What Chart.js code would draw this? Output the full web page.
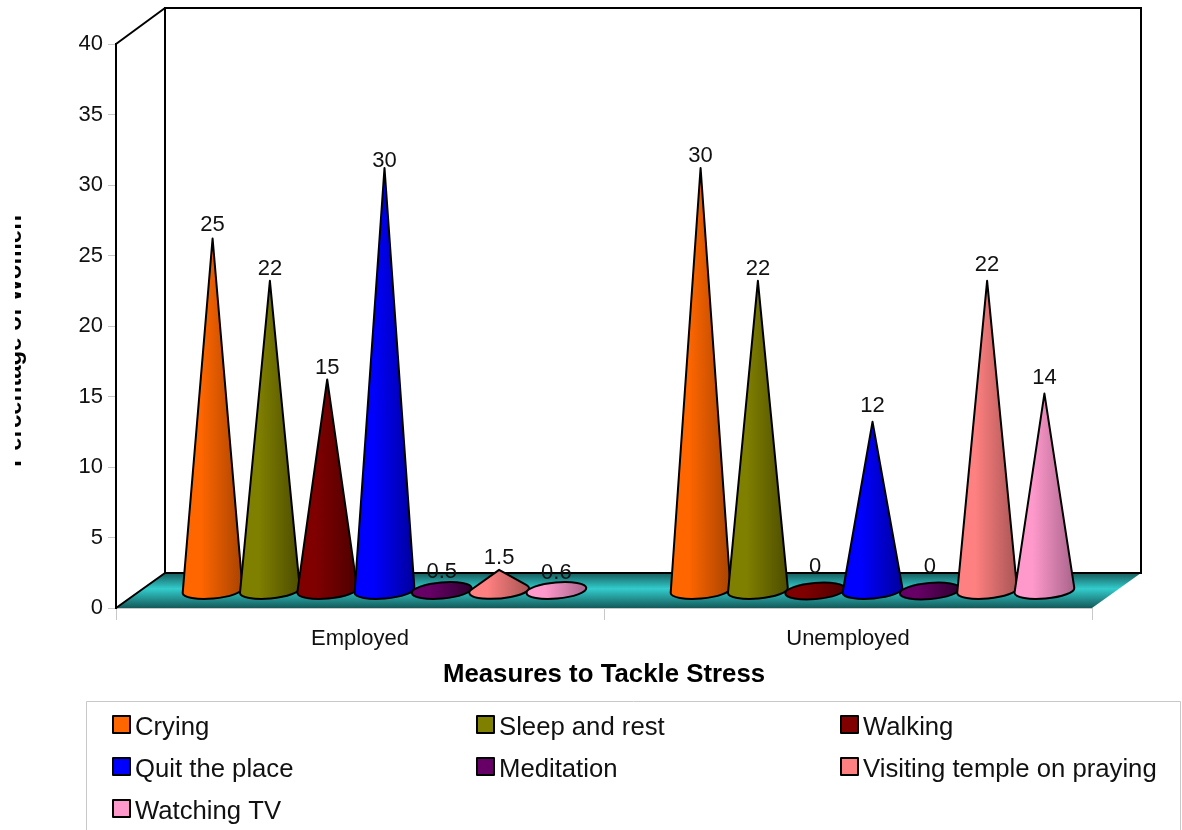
<!DOCTYPE html>
<html>
<head>
<meta charset="utf-8">
<title>Measures to Tackle Stress</title>
<script src="https://cdn.jsdelivr.net/npm/chart.js@4"></script>
<style>
  html, body { margin: 0; padding: 0; background: #fff; overflow: hidden; }
  canvas { display: block; }
</style>
</head>
<body>
<canvas id="chart" width="1182" height="830"></canvas>
<script>
const categories = ['Employed', 'Unemployed'];
const seriesNames = ['Crying', 'Sleep and rest', 'Walking', 'Quit the place', 'Meditation', 'Visiting temple on praying', 'Watching TV'];
const crying = [25, 30];
const sleepAndRest = [22, 22];
const walking = [15, 0];
const quitThePlace = [30, 12];
const meditation = [0.5, 0];
const visitingTemple = [1.5, 22];
const watchingTv = [0.6, 14];
const seriesValues = [crying, sleepAndRest, walking, quitThePlace, meditation, visitingTemple, watchingTv];
const tickStep = 5;
const tickMax = 40;

const lightColors = ['#ff6600', '#808000', '#800000', '#0000ff', '#660066', '#ff8080', '#ff99cc'];
const darkColors = ['#a84300', '#4d4d00', '#4d0000', '#00009c', '#2e002e', '#a85454', '#a8648a'];
// how far each value label sits above its cone tip
const labelLift = [[15, 13], [13, 13], [13, 25], [8, 17], [13, 25], [13, 17], [11, 17]];

const FONT = '"Liberation Sans", Arial, sans-serif';
const INK = '#111';
const DEPTH_X = 49, DEPTH_Y = 35;   // depth of the fake 3D box
const CONE_X = 24.5, CONE_Y = 17;   // cones stand in the middle of the floor
const CONE_RX = 30, CONE_RY = 8, CONE_TILT = -0.085;

function drawBox(ctx, area) {
  const { left, right, top, bottom } = area;
  // floor
  const floor = ctx.createLinearGradient(0, bottom - DEPTH_Y, 0, bottom);
  floor.addColorStop(0, '#155c5c');
  floor.addColorStop(0.45, '#33cccc');
  floor.addColorStop(1, '#145a5a');
  ctx.fillStyle = floor;
  ctx.beginPath();
  ctx.moveTo(left, bottom);
  ctx.lineTo(left + DEPTH_X, bottom - DEPTH_Y);
  ctx.lineTo(right + DEPTH_X, bottom - DEPTH_Y);
  ctx.lineTo(right, bottom);
  ctx.closePath();
  ctx.fill();
  // walls
  ctx.strokeStyle = '#000';
  ctx.lineWidth = 2;
  ctx.strokeRect(left + DEPTH_X, top - DEPTH_Y - 1, right - left, bottom - top + 1);
  ctx.beginPath();
  ctx.moveTo(left, top);
  ctx.lineTo(left + DEPTH_X, top - DEPTH_Y - 1);
  ctx.moveTo(left, bottom);
  ctx.lineTo(left + DEPTH_X, bottom - DEPTH_Y);
  ctx.stroke();
}

function drawCone(ctx, cx, cy, tipY, light, dark) {
  const grad = ctx.createLinearGradient(cx - CONE_RX, 0, cx + CONE_RX, 0);
  grad.addColorStop(0, light);
  grad.addColorStop(0.3, light);
  grad.addColorStop(1, dark);
  ctx.fillStyle = grad;
  ctx.strokeStyle = '#000';
  ctx.lineWidth = 2;
  ctx.lineJoin = 'round';

  // tip in the ellipse's own unit circle, to find the tangent points
  const dx = 0, dy = tipY - cy;
  const cos = Math.cos(-CONE_TILT), sin = Math.sin(-CONE_TILT);
  const px = (dx * cos - dy * sin) / CONE_RX;
  const py = (dx * sin + dy * cos) / CONE_RY;
  const d = Math.hypot(px, py);

  ctx.beginPath();
  if (d <= 1) {
    ctx.ellipse(cx, cy, CONE_RX, CONE_RY, CONE_TILT, 0, Math.PI * 2);
  } else {
    const a = Math.atan2(py, px), spread = Math.acos(1 / d);
    const t1 = a + spread, t2 = a - spread;
    ctx.moveTo(cx, tipY);
    ctx.ellipse(cx, cy, CONE_RX, CONE_RY, CONE_TILT, t1, t2, false);
  }
  ctx.closePath();
  ctx.fill();
  ctx.stroke();
}

function drawLegend(chart) {
  const ctx = chart.ctx;
  ctx.strokeStyle = '#c8c8c8';
  ctx.lineWidth = 1;
  ctx.strokeRect(86.5, 701.5, 1094, 140);
  ctx.font = '25.7px ' + FONT;
  ctx.textAlign = 'left';
  ctx.textBaseline = 'middle';
  chart.data.datasets.forEach((ds, i) => {
    const x = 113 + (i % 3) * 364;
    const y = 724 + Math.floor(i / 3) * 42;
    ctx.fillStyle = ds.backgroundColor;
    ctx.fillRect(x, y - 8, 17, 17);
    ctx.strokeStyle = '#000';
    ctx.lineWidth = 2;
    ctx.strokeRect(x, y - 8, 17, 17);
    ctx.fillStyle = INK;
    ctx.fillText(ds.label, x + 22, y + 4);
  });
}

const conePlugin = {
  id: 'cones',
  beforeDatasetsDraw(chart) {
    drawBox(chart.ctx, chart.chartArea);
  },
  // the bars are only used for their geometry
  beforeDatasetDraw() {
    return false;
  },
  afterDatasetsDraw(chart) {
    const ctx = chart.ctx;
    chart.data.datasets.forEach((ds, i) => {
      chart.getDatasetMeta(i).data.forEach(bar => {
        drawCone(ctx, bar.x + CONE_X, bar.base - CONE_Y, bar.y - CONE_Y, lightColors[i], darkColors[i]);
      });
    });
    ctx.font = '22px ' + FONT;
    ctx.fillStyle = INK;
    ctx.textAlign = 'center';
    ctx.textBaseline = 'bottom';
    chart.data.datasets.forEach((ds, i) => {
      chart.getDatasetMeta(i).data.forEach((bar, j) => {
        ctx.fillText(String(ds.data[j]), bar.x + CONE_X, bar.y - CONE_Y - labelLift[i][j] + 12);
      });
    });
  },
  afterDraw(chart) {
    const ctx = chart.ctx;
    // the y title runs off the left side of the picture
    ctx.save();
    ctx.beginPath();
    ctx.rect(15, 0, 200, 700);
    ctx.clip();
    ctx.translate(21, 341);
    ctx.rotate(-Math.PI / 2);
    ctx.font = 'bold 24px ' + FONT;
    ctx.fillStyle = '#000';
    ctx.textAlign = 'center';
    ctx.textBaseline = 'alphabetic';
    ctx.fillText('Percentage of Women', 0, 0);
    ctx.restore();
    drawLegend(chart);
  }
};

new Chart(document.getElementById('chart'), {
  type: 'bar',
  data: {
    labels: categories,
    datasets: seriesNames.map((name, i) => ({
      label: name,
      data: seriesValues[i],
      backgroundColor: lightColors[i],
      categoryPercentage: 0.822,
      barPercentage: 1
    }))
  },
  plugins: [conePlugin],
  options: {
    responsive: false,
    animation: false,
    layout: { padding: { left: 0, top: 44, right: 90, bottom: 132 } },
    plugins: { legend: { display: false }, tooltip: { enabled: false } },
    scales: {
      x: {
        afterFit: scale => { scale.height = 90; },
        grid: { offset: true, drawOnChartArea: false, color: '#c8c8c8', tickLength: 12 },
        border: { color: '#c8c8c8', width: 1 },
        ticks: { color: INK, font: { family: FONT, size: 22 }, padding: 6, maxRotation: 0 },
        title: {
          display: true,
          text: 'Measures to Tackle Stress',
          color: '#000',
          font: { family: FONT, size: 25.8, weight: 'bold' },
          padding: { top: 0, bottom: 8 }
        }
      },
      y: {
        min: 0,
        max: tickMax,
        afterFit: scale => { scale.width = 116; },
        grid: { drawOnChartArea: false, color: '#c8c8c8', tickLength: 8 },
        border: { color: '#000', width: 2 },
        ticks: { stepSize: tickStep, color: INK, font: { family: FONT, size: 22 }, padding: 5 }
      }
    }
  }
});
</script>
</body>
</html>
